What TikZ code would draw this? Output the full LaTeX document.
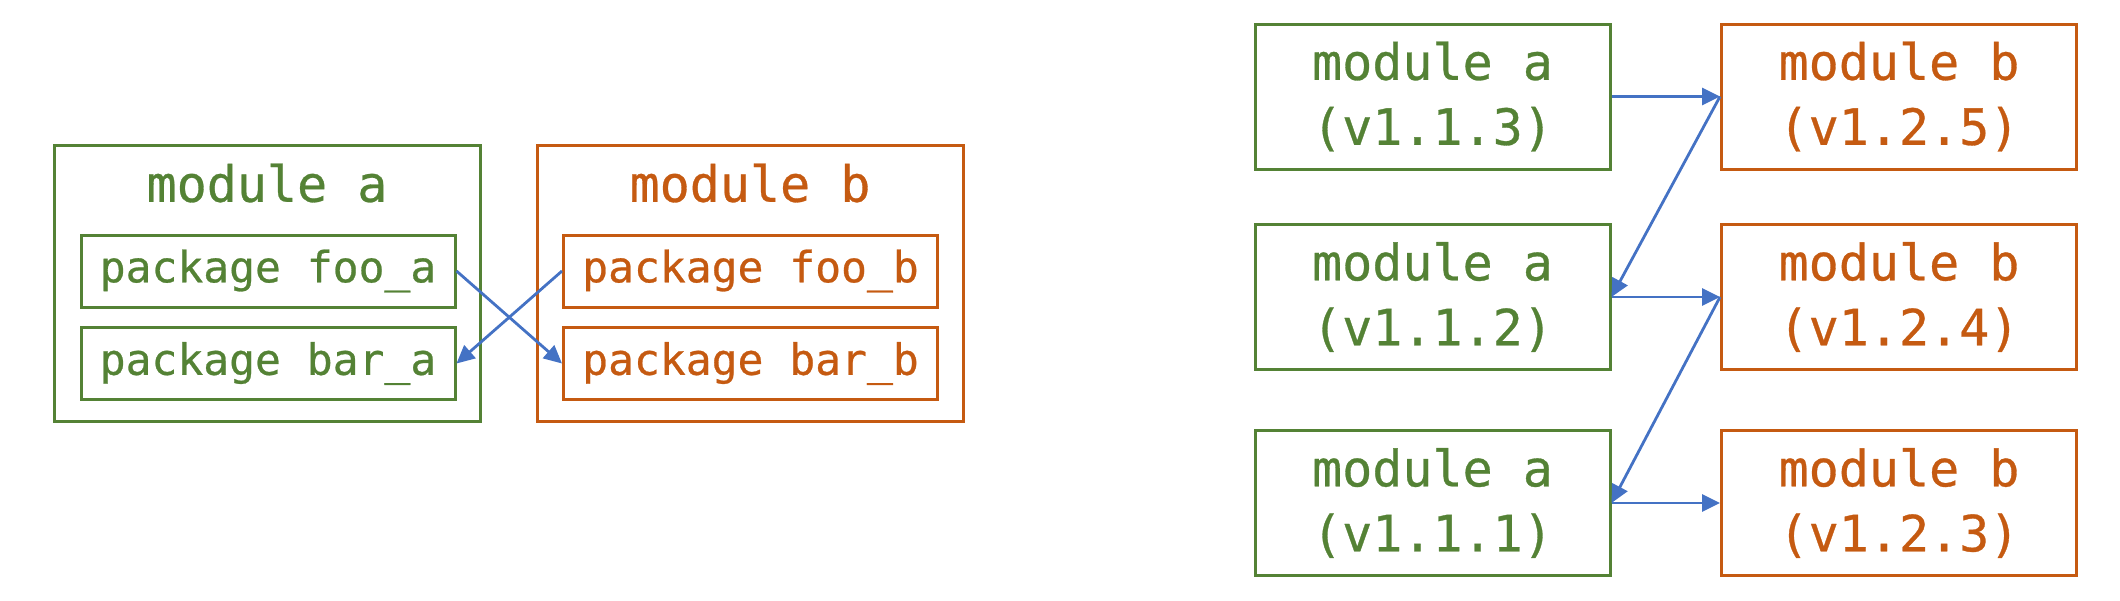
\documentclass[tikz,border=0pt]{standalone}
\usepackage{fontspec}
\setmonofont{DejaVu Sans Mono}[FakeBold=0.6]
\usetikzlibrary{arrows.meta}
\definecolor{cgreen}{HTML}{548235}
\definecolor{corange}{HTML}{C55A11}
\definecolor{cblue}{HTML}{4472C4}
\tikzset{
  gbox/.style={draw=cgreen, text=cgreen, line width=3pt, inner sep=0pt},
  obox/.style={draw=corange, text=corange, line width=3pt, inner sep=0pt},
  pkgfont/.style={font=\ttfamily\fontsize{43}{50}\selectfont},
  modfont/.style={font=\ttfamily\fontsize{50}{65}\selectfont, align=center},
  pkg/.style={minimum width=374pt, minimum height=72pt, pkgfont},
  outer/.style={minimum width=426pt, minimum height=276pt},
  ver/.style={minimum width=355pt, minimum height=145pt, modfont},
  conn/.style={draw=cblue, line width=2.8pt, -{Triangle[length=18pt,width=17pt]}}
}
\begin{document}
\begin{tikzpicture}[x=1pt,y=-1pt]
\useasboundingbox (0,0) rectangle (2120,600);
% left
\node[gbox, outer] (moda) at (267,283) {};
\node[obox, outer] (modb) at (750,283) {};
\node[text=cgreen, modfont] (ta) at (267,183) {module a};
\node[text=corange, modfont] (tb) at (750,183) {module b};
\node[gbox, pkg] (fooa) at (268,271) {package foo\_a};
\node[gbox, pkg] (bara) at (268,363.5) {package bar\_a};
\node[obox, pkg] (foob) at (750.5,271) {package foo\_b};
\node[obox, pkg] (barb) at (750.5,363.5) {package bar\_b};
\draw[conn] (fooa.east) -- (barb.west);
\draw[conn] (foob.west) -- (bara.east);
% right
\node[gbox, ver] (a3) at (1432.5,96.5) {module a\\(v1.1.3)};
\node[gbox, ver] (a2) at (1432.5,297) {module a\\(v1.1.2)};
\node[gbox, ver] (a1) at (1432.5,503) {module a\\(v1.1.1)};
\node[obox, ver] (b5) at (1899,96.5) {module b\\(v1.2.5)};
\node[obox, ver] (b4) at (1899,297) {module b\\(v1.2.4)};
\node[obox, ver] (b3) at (1899,503) {module b\\(v1.2.3)};
\draw[conn] (a3.east) -- (b5.west);
\draw[conn] (b5.west) -- (a2.east);
\draw[conn] (a2.east) -- (b4.west);
\draw[conn] (b4.west) -- (a1.east);
\draw[conn] (a1.east) -- (b3.west);
\end{tikzpicture}
\end{document}
